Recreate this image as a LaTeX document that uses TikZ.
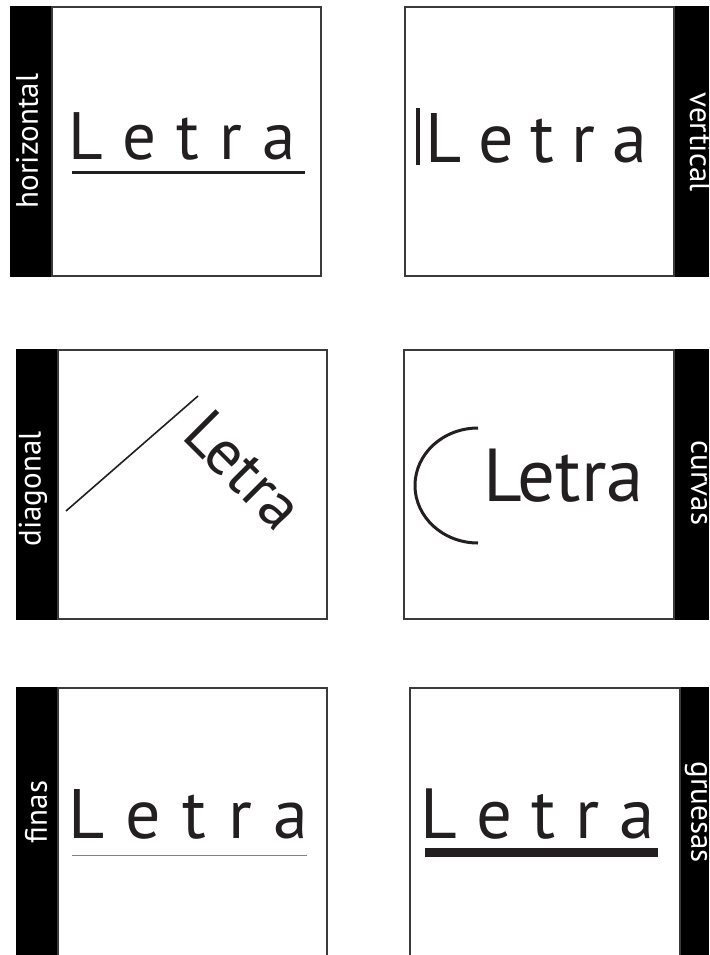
\documentclass[tikz,border=0pt]{standalone}
\usepackage{fontspec}
\setmainfont{PT Sans}
\definecolor{ink}{HTML}{231F20}
\definecolor{frame}{HTML}{3A3A3A}
\newcommand\spacedLetra[1]{L\kern#1 e\kern#1 t\kern#1 r\kern#1 a}
\tikzset{
  panel/.style={draw=frame, line width=2pt, fill=white},
  bar/.style={fill=black},
  lab/.style={text=white, inner sep=0pt, font=\fontsize{31}{31}\selectfont},
  word/.style={text=ink, inner sep=0pt, anchor=base west},
}
\begin{document}
\begin{tikzpicture}[x=1pt,y=-1pt]
\clip (0,0) rectangle (709,955);
\fill[white] (0,0) rectangle (709,955);
% ---------- row 1 ----------
\fill[bar] (10,6) rectangle (52,277);
\draw[panel] (52,7) rectangle (321,276);
\node[lab, rotate=90] (l1) at (27,141) {horizontal};
\node[word, font=\fontsize{67}{67}\selectfont] (w1) at (68,159) {\spacedLetra{20pt}};
\draw[ink, line width=3pt] (72,172) -- (305,172);

\fill[bar] (674,6) rectangle (709,277);
\draw[panel] (405,7) rectangle (674,276);
\node[lab, rotate=-90] (l2) at (701,142) {vertical};
\node[word, font=\fontsize{70}{70}\selectfont] (w2) at (425,162) {\spacedLetra{17pt}};
\draw[ink, line width=3.5pt] (418,108) -- (418,165);
% ---------- row 2 ----------
\fill[bar] (16,349) rectangle (58,620);
\draw[panel] (58,350) rectangle (327,619);
\node[lab, rotate=90] (l3) at (33,489) {diagonal};
\draw[ink, line width=1.6pt] (66,511) -- (198,396);
\node[word, rotate=-45, font=\fontsize{64}{64}\selectfont] (w3) at (180,437) {Letra};

\fill[bar] (674,349) rectangle (709,620);
\draw[panel] (404,350) rectangle (674,619);
\node[lab, rotate=-90] (l4) at (699,483) {curvas};
\draw[ink, line width=3pt] (478,428) arc[start angle=270, end angle=90, x radius=63, y radius=57.5];
\node[word, font=\fontsize{75}{75}\selectfont] (w4) at (483,501) {Letra};
% ---------- row 3 ----------
\fill[bar] (16,687) rectangle (58,960);
\draw[panel] (58,688) rectangle (327,980);
\node[lab, rotate=90] (l5) at (36,812) {finas};
\node[word, font=\fontsize{70}{70}\selectfont] (w5) at (68,838) {\spacedLetra{21.5pt}};
\draw[gray, line width=1pt] (72,855) -- (307,855);

\fill[bar] (680,687) rectangle (709,960);
\draw[panel] (410,688) rectangle (680,980);
\node[lab, rotate=-90] (l6) at (696,812) {gruesas};
\node[word, font=\fontsize{71}{71}\selectfont] (w6) at (420,838) {\spacedLetra{19.5pt}};
\draw[ink, line width=9pt] (425,852) -- (658,852);
\end{tikzpicture}
\end{document}
